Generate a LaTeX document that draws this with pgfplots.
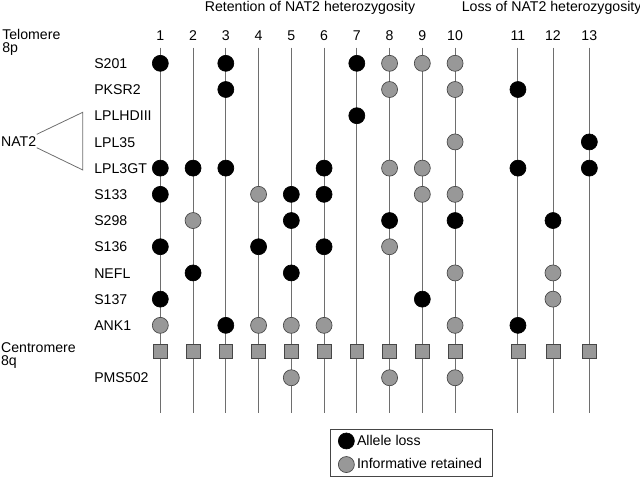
\documentclass[border=0pt]{standalone}
\usepackage{pgfplots}
\pgfplotsset{compat=1.18}
\usepackage{pgfplotstable}
\usepackage{fontspec}
\setmainfont{Liberation Sans}
\definecolor{dotgray}{RGB}{152,152,152}
\definecolor{edgegray}{RGB}{70,70,70}
\definecolor{linegray}{RGB}{110,110,110}
\pgfplotsset{onemark/.style={legend image code/.code={\draw[mark repeat=1,##1] plot coordinates {(0pt,0pt)};}}}
% columns: 1..10 at 1..10, 11 -> 11.92, 12 -> 12.99, 13 -> 14.10 ; rows: 0 = S201 ... 11 = centromere, 12 = PMS502
\pgfplotstableread{
x y
1 0
1 4
1 5
1 7
1 9
2 4
2 8
3 0
3 1
3 4
3 10
4 7
5 5
5 6
5 8
6 4
6 5
6 7
7 0
7 2
8 6
9 9
10 6
11.92 1
11.92 4
11.92 10
12.99 6
14.10 3
14.10 4
}\lossdata
\pgfplotstableread{
x y
1 10
2 6
4 5
4 10
5 10
5 12
6 10
8 0
8 1
8 4
8 7
8 12
9 0
9 4
9 5
10 0
10 1
10 3
10 5
10 8
10 10
10 12
12.99 8
12.99 9
}\retaindata
\pgfplotstableread{
x y
1 11
2 11
3 11
4 11
5 11
6 11
7 11
8 11
9 11
10 11
11.92 11
12.99 11
14.10 11
}\centrodata
\begin{document}
\begin{tikzpicture}[font=\fontsize{10.6}{12}\selectfont]
\begin{axis}[
  width=480pt, height=358.5pt, scale only axis,
  xmin=-3.895, xmax=15.647, ymin=-2.416, ymax=15.826, y dir=reverse,
  hide axis, clip=false,
  legend style={at={(axis cs:6.18,13.96)}, anchor=north west, draw=edgegray, line width=0.6pt,
    font=\fontsize{10.6}{12}\selectfont, legend cell align=left,
    inner xsep=6pt, inner ysep=2pt, row sep=4.5pt},
]
% vertical chromosome lines
\addplot[linegray, line width=0.7pt, empty line=jump, forget plot] table {
x y
1 -0.6
1 13.34

2 -0.6
2 13.34

3 -0.6
3 13.34

4 -0.6
4 13.34

5 -0.6
5 13.34

6 -0.6
6 13.34

7 -0.6
7 13.34

8 -0.6
8 13.34

9 -0.6
9 13.34

10 -0.6
10 13.34

11.92 -0.6
11.92 13.34

12.99 -0.6
12.99 13.34

14.10 -0.6
14.10 13.34
};
% NAT2 bracket
\addplot[linegray, line width=0.6pt, forget plot] coordinates {(-2.774,2.71) (-1.369,1.87) (-1.369,4.07) (-2.774,3.22)};
% centromere squares
\addplot[only marks, mark=square*, mark size=5.2pt, mark options={fill=dotgray, draw=edgegray, line width=0.5pt}, forget plot] table {\centrodata};
% allele loss
\addplot[only marks, mark=*, mark size=6pt, mark options={fill=black, draw=black, line width=0.5pt}, onemark] table {\lossdata};
\addlegendentry{Allele loss}
% informative retained
\addplot[only marks, mark=*, mark size=6pt, mark options={fill=dotgray, draw=edgegray, line width=0.5pt}, onemark] table {\retaindata};
\addlegendentry{Informative retained}
% titles
\node[anchor=base, inner sep=0] at (axis cs:5.571,-1.99) {Retention of NAT2 heterozygosity};
\node[anchor=base, inner sep=0] at (axis cs:12.95,-1.99) {Loss of NAT2 heterozygosity};
% column numbers
\node[anchor=base, inner sep=0] at (axis cs:1,-0.889) {1};
\node[anchor=base, inner sep=0] at (axis cs:2,-0.889) {2};
\node[anchor=base, inner sep=0] at (axis cs:3,-0.889) {3};
\node[anchor=base, inner sep=0] at (axis cs:4,-0.889) {4};
\node[anchor=base, inner sep=0] at (axis cs:5,-0.889) {5};
\node[anchor=base, inner sep=0] at (axis cs:6,-0.889) {6};
\node[anchor=base, inner sep=0] at (axis cs:7,-0.889) {7};
\node[anchor=base, inner sep=0] at (axis cs:8,-0.889) {8};
\node[anchor=base, inner sep=0] at (axis cs:9,-0.889) {9};
\node[anchor=base, inner sep=0] at (axis cs:10,-0.889) {10};
\node[anchor=base, inner sep=0] at (axis cs:11.92,-0.889) {11};
\node[anchor=base, inner sep=0] at (axis cs:12.99,-0.889) {12};
\node[anchor=base, inner sep=0] at (axis cs:14.10,-0.889) {13};
% left labels (base anchor of a two-line node = baseline of its last line)
\node[anchor=base west, inner sep=0, align=left, font=\fontsize{10.6}{9.8}\selectfont] at (axis cs:-3.834,-0.41) {Telomere\\8p};
\node[anchor=base west, inner sep=0] at (axis cs:-3.87,3.18) {NAT2};
\node[anchor=base west, inner sep=0, align=left, font=\fontsize{10.6}{9.8}\selectfont] at (axis cs:-3.87,11.55) {Centromere\\8q};
\node[anchor=base west, inner sep=0] at (axis cs:-1.024,0.2) {S201};
\node[anchor=base west, inner sep=0] at (axis cs:-1.024,1.2) {PKSR2};
\node[anchor=base west, inner sep=0] at (axis cs:-1.024,2.2) {LPLHDIII};
\node[anchor=base west, inner sep=0] at (axis cs:-1.024,3.2) {LPL35};
\node[anchor=base west, inner sep=0] at (axis cs:-1.024,4.2) {LPL3GT};
\node[anchor=base west, inner sep=0] at (axis cs:-1.024,5.2) {S133};
\node[anchor=base west, inner sep=0] at (axis cs:-1.024,6.2) {S298};
\node[anchor=base west, inner sep=0] at (axis cs:-1.024,7.2) {S136};
\node[anchor=base west, inner sep=0] at (axis cs:-1.024,8.2) {NEFL};
\node[anchor=base west, inner sep=0] at (axis cs:-1.024,9.2) {S137};
\node[anchor=base west, inner sep=0] at (axis cs:-1.024,10.2) {ANK1};
\node[anchor=base west, inner sep=0] at (axis cs:-1.024,12.2) {PMS502};
\end{axis}
\pgfresetboundingbox
\path (current axis.south west) rectangle (current axis.north east);
\end{tikzpicture}
\end{document}
